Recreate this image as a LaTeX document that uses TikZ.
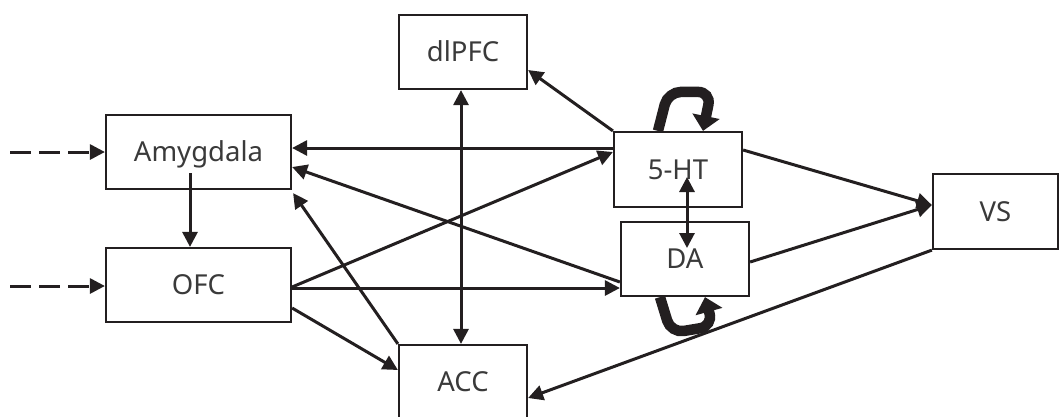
\documentclass[tikz,border=0pt]{standalone}
\usepackage{fontspec}
\setmainfont{Noto Sans}
\usetikzlibrary{arrows.meta,calc}
\definecolor{ink}{HTML}{231F20}
\definecolor{labelgray}{HTML}{3A3A3A}

\begin{document}
\begin{tikzpicture}[x=1pt,y=-1pt,
  box/.style={draw=ink,line width=2.2pt,rectangle,inner sep=0pt,text=labelgray,
    font=\fontsize{27.5}{32}\selectfont,text height=19.5pt,text depth=0pt,
    minimum height=74pt},
  link/.style={draw=ink,line width=3pt,-{Triangle[length=15pt,width=15pt]}},
  both/.style={draw=ink,line width=3pt,
    {Triangle[length=15pt,width=15pt]}-{Triangle[length=15pt,width=15pt]}},
  feed/.style={link,dash pattern=on 21pt off 8pt},
  selfloop/.style={draw=ink,line width=10.5pt,rounded corners=13pt,
    -{Triangle[length=15pt,width=27pt]}}
]
\useasboundingbox (0,0) rectangle (1060,416);
\clip (0,0) rectangle (1060,416);

% regions
\node[box,minimum width=128pt] (dl) at (463,52) {dlPFC};
\node[box,minimum width=185pt] (amy) at (198.5,152) {Amygdala};
\node[box,minimum width=185pt] (ofc) at (198.5,285) {OFC};
\node[box,minimum width=128pt,minimum height=75pt] (ht) at (678,169.5) {5-HT};
\node[box,minimum width=128pt] (da) at (685,259) {DA};
\node[box,minimum width=128pt] (acc) at (463,382) {ACC};
\node[box,minimum width=125pt,minimum height=75pt] (vs) at (995.5,211.5) {VS};

% external inputs
\coordinate (inA) at (10,152);
\coordinate (inO) at (10,286);
\draw[feed] (inA) -- (amy.west);
\draw[feed] (inO) -- ([yshift=-1pt]ofc.west);

% projections
\draw[link] ([xshift=-8.5pt,yshift=-21pt]amy.center) -- ([xshift=-8.5pt]ofc.north);
\draw[link] ([yshift=21.5pt]ht.west) -- ([yshift=4pt]amy.east);
\draw[link] ([yshift=-23pt]da.west) -- ([yshift=-15pt]amy.east);
\draw[link] (acc.north west) -- ([xshift=1pt,yshift=-3pt]amy.south east);
\draw[both] ([xshift=-2pt]dl.south) -- ([xshift=-2pt]acc.north);
\draw[link] (ht.north west) -- ([yshift=-18pt]dl.east);
\draw[link] ([yshift=-2pt]ofc.east) -- ([yshift=17.5pt]ht.west);
\draw[link] ([yshift=-3pt]ofc.east) -- ([yshift=-29pt]da.west);
\draw[link] ([yshift=-23pt]ofc.east) -- ([yshift=12pt]acc.west);
\draw[both] ([xshift=9pt,yshift=-7.5pt]ht.center) -- ([xshift=2pt,yshift=11pt]da.center);
\draw[link] ([yshift=19.5pt]ht.east) -- ([yshift=6.5pt]vs.west);
\draw[link] ([yshift=-3pt]da.east) -- ([yshift=6.5pt]vs.west);
\draw[link] (vs.south west) -- ([yshift=-16pt]acc.east);

% self-excitation loops
\draw[selfloop] ([xshift=-20pt]ht.north) -- ++(10,-39) -- ++(43,0) -- ([xshift=25pt]ht.north);
\draw[selfloop] ([xshift=-25pt]da.south) -- ++(11,36) -- ++(42,-7) -- ([xshift=20pt]da.south);
\end{tikzpicture}
\end{document}
